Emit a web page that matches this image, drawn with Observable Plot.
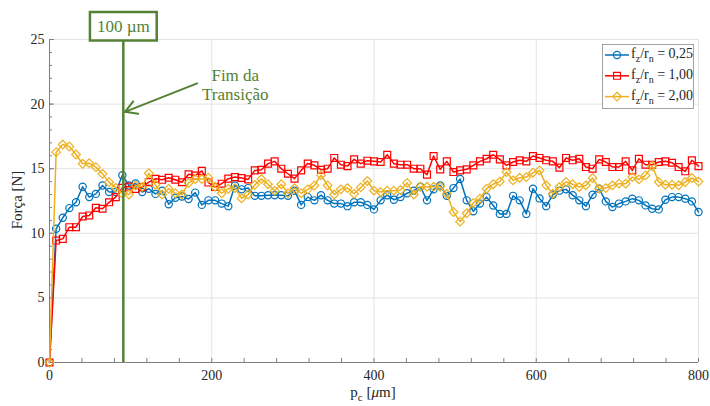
<!DOCTYPE html>
<html><head><meta charset="utf-8">
<script src="https://cdn.jsdelivr.net/npm/d3@7"></script>
<script src="https://cdn.jsdelivr.net/npm/@observablehq/plot@0.6"></script>
<style>body{margin:0;background:#fff}svg, svg text{font-family:"Liberation Serif",serif !important}</style>
</head><body><div id="chart"></div>
<script>
// Data (Força [N] vs p_c [µm]), 99 samples from 0 to 800 µm
const blue = [0,10.35,11.2,11.95,12.4,13.6,12.8,13.05,13.7,13.2,13.2,14.5,13.7,13.85,13.2,13.45,13.05,13.3,12.25,12.75,
12.85,12.65,13.15,12.2,12.55,12.55,12.3,12.1,13.7,13.4,13.5,12.9,12.9,12.95,12.95,12.95,12.9,13.3,12.2,12.8,
12.55,12.95,12.55,12.3,12.3,12.1,12.4,12.4,12.2,11.85,12.55,12.95,12.6,12.8,13.1,13.3,13.6,12.55,13.4,13.7,
12.9,13.5,14.2,12.55,11.7,12.3,12.8,12.15,11.5,11.5,12.9,12.55,11.5,13.45,12.7,12.1,12.98,13.3,13.4,12.95,
12.55,12.1,12.98,13.45,12.47,12.03,12.3,12.47,12.68,12.55,12.16,11.9,11.85,12.6,12.8,12.8,12.68,12.47,11.65];
const red = [0,9.44,9.57,10.47,10.47,11.3,11.38,11.97,11.9,12.4,12.8,13.52,13.62,13.44,13.57,13.96,14.22,14.14,14.3,14.15,
13.95,14.57,14.47,14.83,13.93,13.58,13.84,14.23,14.35,14.28,14.17,14.87,14.92,15.39,15.57,15.0,14.61,14.23,14.87,15.4,
15.26,14.92,15.0,15.83,15.31,15.2,15.72,15.39,15.62,15.57,15.52,16.08,15.39,15.31,15.31,15.0,15.0,14.54,15.98,14.95,
15.57,14.74,14.87,14.95,15.26,15.57,15.77,16.08,15.72,15.26,15.52,15.65,15.57,15.98,15.83,15.65,15.57,15.08,15.83,15.65,
15.77,15.13,15.0,15.72,15.52,15.13,15.13,15.57,14.87,15.77,15.31,15.31,15.52,15.57,15.46,15.13,14.8,15.65,15.2];
const orange = [0,16.28,16.87,16.72,16.1,15.38,15.43,15.12,14.6,13.96,13.52,13.05,13.0,13.7,13.6,14.65,13.75,13.0,13.45,13.1,
13.0,13.9,14.2,14.2,14.3,13.6,13.1,13.45,13.5,12.7,13.0,13.75,14.2,13.8,13.3,13.8,13.1,13.5,13.1,13.4,
13.7,14.5,13.7,13.0,13.4,13.5,13.06,13.55,14.05,13.3,13.2,13.3,13.3,13.35,13.9,13.0,13.6,13.6,13.6,13.6,
13.06,11.65,10.9,11.55,12.35,12.68,13.45,13.8,14.0,14.74,14.1,14.3,14.35,14.69,14.87,13.71,13.06,13.58,13.97,13.8,
13.58,13.71,14.28,13.45,13.5,13.71,13.84,13.84,14.35,14.17,14.48,15.2,13.97,13.76,13.76,13.71,13.97,14.28,14.0];
const seriesLabels = ["0,25","1,00","2,00"];
const xMax = 800;
const xTicks = [0,200,400,600,800];
const xMinorTicks = d3.range(0, 801, 40);
const yTicks = [0,5,10,15,20,25];
const yMinorTicks = d3.range(0, 26, 1);
const transition = [{x: 91, label: "100 µm"}];
const arrowLine = [{x1: 182, y1: 21.6, x2: 93, y2: 19.4}];
const note = [{x: 229, y: 21.55, text: "Fim da\nTransição"}];

// styles
const colors = ["#0072BD", "#FF0000", "#EDB120"];
const symbols = ["circle", "square", "diamond2"];
const radii = [3.6, 3.9, 3.9];
const green = "#548235";
const axisColor = "#808080";
const W = 710, H = 406, mL = 49, mR = 12, mT = 39, mB = 44;
const plotW = W - mL - mR, plotH = H - mT - mB;

const allSeries = [blue, red, orange];
const seriesMarks = [];
allSeries.forEach((vals, k) => {
  const step = xMax / (vals.length - 1);
  const pts = vals.map((v, i) => ({x: i * step, y: v}));
  seriesMarks.push(Plot.line(pts, {x: "x", y: "y", stroke: colors[k], strokeWidth: 1.5}));
  seriesMarks.push(Plot.dot(pts, {x: "x", y: "y", stroke: colors[k], fill: "none", symbol: symbols[k], r: radii[k], strokeWidth: 1.2}));
});

const plot = Plot.plot({
  width: W, height: H,
  marginLeft: mL, marginRight: mR, marginTop: mT, marginBottom: mB,
  x: {domain: [0, xMax]},
  y: {domain: [0, 25]},
  style: {fontFamily: "Liberation Serif", background: "#fff", color: "#262626"},
  marks: [
    Plot.gridX(xTicks.slice(1), {stroke: "#e3e3e3", strokeOpacity: 1}),
    Plot.gridY(yTicks.slice(1), {stroke: "#e3e3e3", strokeOpacity: 1}),
    Plot.ruleX([0], {stroke: axisColor}),
    Plot.ruleY([0], {stroke: axisColor}),
    Plot.tickX(xMinorTicks, {x: d => d, insetTop: plotH - 4, stroke: axisColor}),
    Plot.tickY(yMinorTicks, {y: d => d, insetRight: plotW - 3, stroke: axisColor}),
    Plot.tickY(yTicks, {y: d => d, insetRight: plotW - 5, stroke: axisColor}),
    Plot.axisX(xTicks, {tickSize: 0, tickPadding: 8, fontSize: 14, label: null, fill: "#262626"}),
    Plot.axisY(yTicks, {tickSize: 0, tickPadding: 5, fontSize: 14, label: null, fill: "#262626"}),
    ...seriesMarks,
    Plot.ruleX(transition, {x: "x", stroke: green, strokeWidth: 2.5}),
    Plot.text(transition, {x: "x", text: "label", frameAnchor: "top", lineAnchor: "middle", dy: -13, fontSize: 17, fill: green, className: "boxlabel"}),
    Plot.arrow(arrowLine, {x1: "x1", y1: "y1", x2: "x2", y2: "y2", stroke: green, strokeWidth: 2, headLength: 10}),
    Plot.text(note, {x: "x", y: "y", text: "text", fontSize: 17, lineHeight: 1.15, fill: green})
  ]
});
document.getElementById("chart").append(plot);
const svg = d3.select(plot);

// box around "100 µm" (spans from above the frame down to the frame top)
const lblNode = svg.select("g.boxlabel text").node();
if (lblNode) {
  const r = lblNode.getBoundingClientRect();
  const s = plot.getBoundingClientRect();
  const bx = r.left - s.left, bw = r.width;
  svg.insert("rect", "g.boxlabel")
    .attr("x", bx - 7).attr("y", mT - 27)
    .attr("width", bw + 14).attr("height", 28.5)
    .attr("fill", "#fff").attr("stroke", green).attr("stroke-width", 2.5);
}

// axis labels
svg.append("text").attr("transform", "translate(22,200) rotate(-90)")
  .attr("text-anchor", "middle").attr("font-size", 15).attr("fill", "#262626").text("Força [N]");
const xl = svg.append("text").attr("x", 373).attr("y", 397).attr("text-anchor", "middle")
  .attr("font-size", 15).attr("fill", "#262626");
xl.append("tspan").text("p");
xl.append("tspan").attr("font-size", 11).attr("dy", 4).text("c");
xl.append("tspan").attr("dy", -4).text(" [");
xl.append("tspan").attr("font-style", "italic").text("μ");
xl.append("tspan").text("m]");

// legend
const lg = svg.append("g");
lg.append("rect").attr("x", 602.5).attr("y", 44.5).attr("width", 91).attr("height", 64)
  .attr("fill", "#fff").attr("stroke", "#8c8c8c").attr("stroke-width", 0.8);
const d3sym = {circle: d3.symbolCircle, square: d3.symbolSquare, diamond2: d3.symbolDiamond2};
seriesLabels.forEach((name, k) => {
  const cy = 55 + k * 20.8;
  lg.append("line").attr("x1", 605).attr("x2", 629).attr("y1", cy).attr("y2", cy)
    .attr("stroke", colors[k]).attr("stroke-width", 1.5);
  lg.append("path").attr("transform", `translate(617,${cy})`)
    .attr("d", d3.symbol(d3sym[symbols[k]], radii[k] * radii[k] * Math.PI)())
    .attr("fill", "none").attr("stroke", colors[k]).attr("stroke-width", 1.2);
  const t = lg.append("text").attr("x", 631).attr("y", cy + 3).attr("font-size", 14)
    .attr("text-anchor", "start").attr("fill", "#262626");
  t.append("tspan").text("f");
  t.append("tspan").attr("font-size", 10).attr("dy", 4).text("z");
  t.append("tspan").attr("dy", -4).text("/r");
  t.append("tspan").attr("font-size", 10).attr("dy", 4).text("n");
  t.append("tspan").attr("dy", -4).text(" = " + name);
});
</script></body></html>
